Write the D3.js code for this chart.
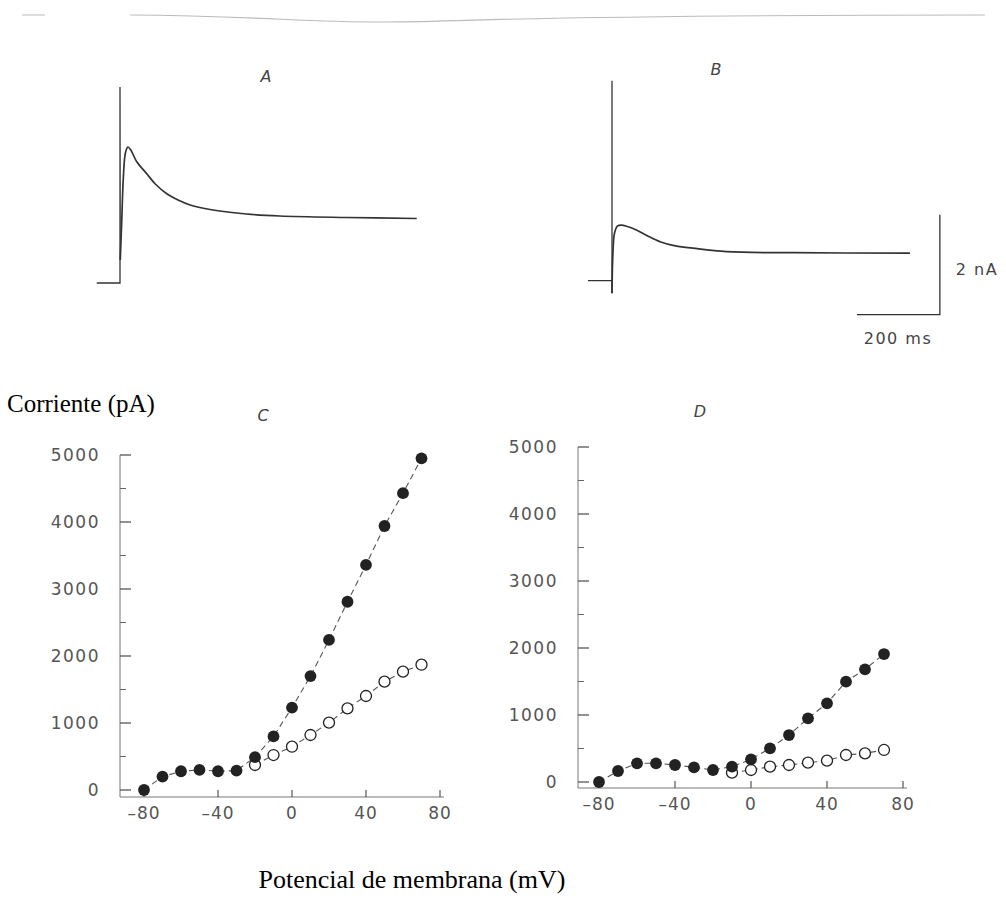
<!DOCTYPE html>
<html>
<head>
<meta charset="utf-8">
<script src="https://d3js.org/d3.v7.min.js"></script>
<style>
  body { margin: 0; background: #fff; }
</style>
</head>
<body>
<div id="fig"></div>
<script>
// current traces (time in ms from step onset, current in nA)
// step + capacitive spike, then the response
var spikeA = [[-56,0],[0,0],[0,3.92],[0.6,0.46]];
var respA = [[0.6,0.46],[4,1.2],[8,2.1],[13,2.6],[19,2.72],[26,2.66],[40,2.43],[64,2.19],
  [85,1.98],[112,1.79],[140,1.66],[169,1.56],[224,1.46],[305,1.38],[385,1.34],[546,1.31],[715,1.29]];
var spikeB = [[-58,0],[0,0],[0,4.0],[0,-0.25]];
var respB = [[0,-0.25],[2,0.5],[6,0.95],[13,1.09],[22,1.11],[35,1.09],[60,1.01],[85,0.9],
  [116,0.78],[150,0.7],[195,0.65],[276,0.58],[436,0.56],[718,0.55]];

// I-V curves, membrane potential (mV) vs current (pA)
var voltsAll = [-80,-70,-60,-50,-40,-30,-20,-10,0,10,20,30,40,50,60,70];
var filledC = [0,200,280,300,280,290,490,800,1230,1700,2240,2810,3360,3940,4430,4950];
var voltsOpenC = [-20,-10,0,10,20,30,40,50,60,70];
var openC = [373,522,646,821,1005,1219,1403,1617,1766,1870];
var filledD = [0,164,279,279,254,219,179,229,338,502,701,950,1174,1497,1682,1910];
var voltsOpenD = [-10,0,10,20,30,40,50,60,70];
var openD = [139,179,229,254,289,318,403,428,478];

var yTicks = [0,1000,2000,3000,4000,5000];
var yMinor = [500,1500,2500,3500,4500];
var xTicks = [-80,-40,0,40,80];

var svg = d3.select("#fig").append("svg")
  .attr("width", 1006)
  .attr("height", 922);

// faint scan edge at the top
svg.append("path")
  .attr("d", "M22,15 L45,15 M130,15 C260,16 300,22 380,22 C460,22 520,15 985,15")
  .attr("fill", "none")
  .attr("stroke", "#bbb")
  .attr("stroke-width", 1.2);

var ink = "#333";
var tickFont = "'DejaVu Sans', sans-serif";

// ---- traces A and B ----
function drawTrace(spike, resp, x0, base, label, lx, ly) {
  var x = d3.scaleLinear().domain([0, 200]).range([x0, x0 + 83]);
  var y = d3.scaleLinear().domain([0, 2]).range([base, base - 100]);
  var lin = d3.line().x(d => x(d[0])).y(d => y(d[1]));
  var smooth = d3.line().x(d => x(d[0])).y(d => y(d[1])).curve(d3.curveCatmullRom.alpha(0.5));
  svg.append("path")
    .datum(spike)
    .attr("d", lin)
    .attr("fill", "none")
    .attr("stroke", ink)
    .attr("stroke-width", 1.3);
  svg.append("path")
    .datum(resp)
    .attr("d", smooth)
    .attr("fill", "none")
    .attr("stroke", ink)
    .attr("stroke-width", 1.7)
    .attr("stroke-linejoin", "round");
  svg.append("text")
    .attr("x", lx).attr("y", ly)
    .attr("text-anchor", "middle")
    .attr("font-family", tickFont)
    .attr("font-style", "italic")
    .attr("font-size", "16px")
    .attr("fill", "#444")
    .text(label);
  return {x: x, y: y};
}

drawTrace(spikeA, respA, 120, 283, "A", 266, 82);
var sB = drawTrace(spikeB, respB, 612, 280.7, "B", 716, 75);

// scale bar: 200 ms, 2 nA
svg.append("path")
  .attr("d", "M" + sB.x(790) + "," + sB.y(1.32) + "V" + sB.y(-0.68) + "H" + sB.x(590))
  .attr("fill", "none")
  .attr("stroke", ink)
  .attr("stroke-width", 1.3);
svg.append("text")
  .attr("x", sB.x(790) + 16).attr("y", sB.y(0.23))
  .attr("dominant-baseline", "central")
  .attr("font-family", tickFont)
  .attr("font-size", "16px")
  .attr("letter-spacing", "1.5px")
  .attr("fill", "#444")
  .text("2 nA");
svg.append("text")
  .attr("x", 898).attr("y", 344)
  .attr("text-anchor", "middle")
  .attr("font-family", tickFont)
  .attr("font-size", "16px")
  .attr("letter-spacing", "1.5px")
  .attr("fill", "#444")
  .text("200 ms");

// ---- I-V panels C and D ----
function drawIV(o) {
  var x = d3.scaleLinear().domain([-80, 80]).range([o.x0, o.x1]);
  var y = d3.scaleLinear().domain([0, 5000]).range([o.y0, o.y1]);
  var g = svg.append("g");

  // y axis
  g.append("line")
    .attr("x1", o.ax).attr("x2", o.ax)
    .attr("y1", o.y1).attr("y2", o.xb)
    .attr("stroke", "#777").attr("stroke-width", 1);
  g.selectAll(".ymaj").data(yTicks).enter().append("line")
    .attr("x1", o.ax).attr("x2", o.ax + 11)
    .attr("y1", d => y(d)).attr("y2", d => y(d))
    .attr("stroke", "#555").attr("stroke-width", 1.3);
  g.selectAll(".ymin").data(yMinor).enter().append("line")
    .attr("x1", o.ax).attr("x2", o.ax + 6)
    .attr("y1", d => y(d)).attr("y2", d => y(d))
    .attr("stroke", "#666").attr("stroke-width", 1);
  g.selectAll(".ylab").data(yTicks).enter().append("text")
    .attr("x", o.ax - 20)
    .attr("y", d => y(d))
    .attr("dominant-baseline", "central")
    .attr("text-anchor", "end")
    .attr("font-family", tickFont)
    .attr("font-size", "17px")
    .attr("letter-spacing", "1.5px")
    .attr("fill", "#555")
    .text(d => d);

  // x axis
  g.append("line")
    .attr("x1", o.ax).attr("x2", x(80) + 4)
    .attr("y1", o.xb).attr("y2", o.xb)
    .attr("stroke", "#777").attr("stroke-width", 1);
  g.selectAll(".xmaj").data(xTicks).enter().append("line")
    .attr("x1", d => x(d)).attr("x2", d => x(d))
    .attr("y1", o.xb).attr("y2", o.xb - 7)
    .attr("stroke", "#555").attr("stroke-width", 1.2);
  g.selectAll(".xlab").data(xTicks).enter().append("text")
    .attr("x", d => x(d))
    .attr("y", o.xb + 22)
    .attr("text-anchor", "middle")
    .attr("font-family", tickFont)
    .attr("font-size", "17px")
    .attr("letter-spacing", "1px")
    .attr("fill", "#555")
    .text(d => d < 0 ? "\u2013" + (-d) : d);

  // series
  var openPts = o.vo.map((v, i) => [v, o.open[i]]);
  var fillPts = voltsAll.map((v, i) => [v, o.filled[i]]);
  var line = d3.line().x(d => x(d[0])).y(d => y(d[1]));
  [openPts, fillPts].forEach(function(pts) {
    g.append("path")
      .datum(pts)
      .attr("d", line)
      .attr("fill", "none")
      .attr("stroke", "#555")
      .attr("stroke-width", 1.1)
      .attr("stroke-dasharray", "6,4");
  });
  g.selectAll(".op").data(openPts).enter().append("circle")
    .attr("cx", d => x(d[0])).attr("cy", d => y(d[1]))
    .attr("r", 5.5)
    .attr("fill", "#fff")
    .attr("stroke", "#222")
    .attr("stroke-width", 1.3);
  g.selectAll(".fp").data(fillPts).enter().append("circle")
    .attr("cx", d => x(d[0])).attr("cy", d => y(d[1]))
    .attr("r", 5.9)
    .attr("fill", "#222");

  g.append("text")
    .attr("x", o.lx).attr("y", o.ly)
    .attr("text-anchor", "middle")
    .attr("font-family", tickFont)
    .attr("font-style", "italic")
    .attr("font-size", "16px")
    .attr("fill", "#444")
    .text(o.label);
}

drawIV({x0: 144, x1: 440, y0: 790, y1: 455, ax: 120, xb: 797,
  filled: filledC, open: openC, vo: voltsOpenC, label: "C", lx: 263, ly: 421});
drawIV({x0: 599, x1: 903, y0: 782, y1: 447, ax: 578, xb: 788,
  filled: filledD, open: openD, vo: voltsOpenD, label: "D", lx: 700, ly: 417});

// axis titles
svg.append("text")
  .attr("x", 7).attr("y", 412)
  .attr("font-family", "'Liberation Serif', 'Times New Roman', serif")
  .attr("font-size", "25px")
  .attr("fill", "#000")
  .text("Corriente (pA)");
svg.append("text")
  .attr("x", 412).attr("y", 888)
  .attr("text-anchor", "middle")
  .attr("font-family", "'Liberation Serif', 'Times New Roman', serif")
  .attr("font-size", "26px")
  .attr("fill", "#000")
  .text("Potencial de membrana (mV)");
</script>
</body>
</html>
